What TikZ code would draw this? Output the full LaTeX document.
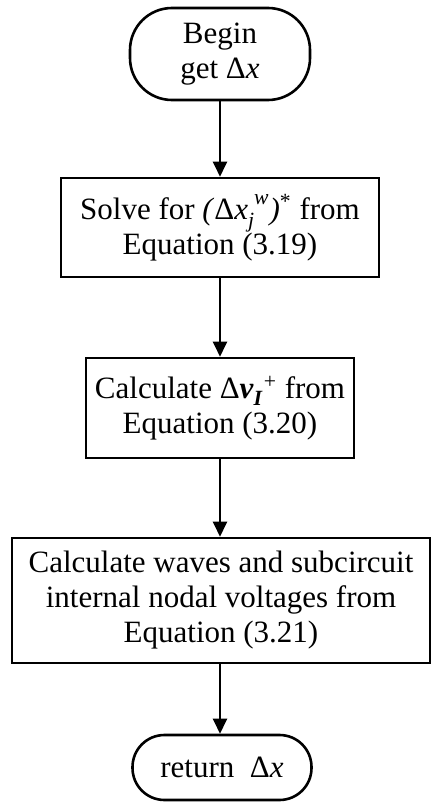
\documentclass[tikz,border=0pt]{standalone}
\usepackage{fontspec}
\setmainfont{Liberation Serif}
\usetikzlibrary{arrows.meta,positioning}

\begin{document}
\begin{tikzpicture}[
    x=0.5pt, y=-0.5pt,
    stepbox/.style={draw=black, line width=1.3pt, fill=white, align=center, inner sep=2pt},
    terminal/.style={stepbox, rounded corners=21pt},
    flow/.style={line width=1.2pt, -{Triangle[length=7.5pt,width=7pt]}},
    font=\fontsize{15.5}{17.5}\selectfont
]
    \useasboundingbox (0,0) rectangle (440,808);

    % Start
    \node[terminal, minimum width=90pt, minimum height=46pt] (begin) at (220,54) {Begin\\get Δ\textit{x}};

    % Steps
    \node[stepbox, minimum width=159pt, minimum height=49.5pt] (solve) at (220,227.5)
        {Solve for \textit{(}Δ\textit{x}\raisebox{-0.3ex}{\textsubscript{\textit{j}}}\kern-0.5pt\raisebox{0.3ex}{\textsuperscript{\textit{w}}}\textit{)}\textsuperscript{*} from\\Equation (3.19)};
    \node[stepbox, minimum width=134pt, minimum height=50pt] (calcv) at (220,408)
        {Calculate Δ\textbf{\textit{v}}\raisebox{-0.2ex}{\textsubscript{\textbf{\textit{I}}}}\textsuperscript{+} from\\Equation (3.20)};
    \node[stepbox, minimum width=209pt, minimum height=62.5pt] (waves) at (221,600.5)
        {Calculate waves and subcircuit\\internal nodal voltages from\\Equation (3.21)};

    % End
    \node[terminal, rounded corners=16pt, minimum width=89.5pt, minimum height=32.5pt] (ret) at (222,767.5) {return~~Δ\textit{x}};

    % Connectors
    \draw[flow] (begin.south) -- (solve.north);
    \draw[flow] (solve.south) -- (calcv.north);
    \draw[flow] (calcv.south) -- (waves.north -| calcv.south);
    \draw[flow] (waves.south -| calcv.south) -- (ret.north -| calcv.south);

\end{tikzpicture}
\end{document}
